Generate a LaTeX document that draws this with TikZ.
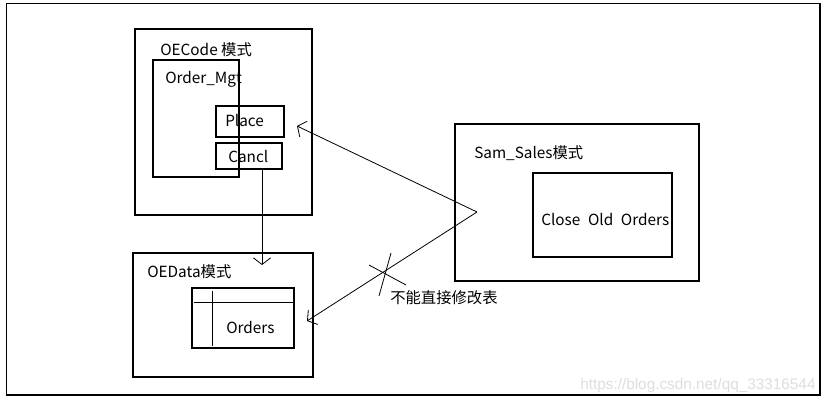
\documentclass[tikz,border=0pt]{standalone}
\usepackage{fontspec}
\setmainfont{Noto Sans CJK SC}
\newfontfamily\wmfont{Liberation Sans}
\usetikzlibrary{fit,arrows.meta}
\tikzset{
  box/.style={draw=black, line width=0.9pt, inner sep=0pt, fill=none},
  lbl/.style={anchor=base west, inner sep=0pt, font=\fontsize{11.5}{13}\selectfont},
  conn/.style={line width=0.6pt, -{Straight Barb[length=5pt,width=13pt,line width=0.6pt]}},
  thin/.style={line width=0.6pt}
}
\begin{document}
\begin{tikzpicture}[x=0.75pt,y=-0.75pt]
\fill[white] (0,0) rectangle (833,403);
\useasboundingbox (0,0) rectangle (833,403);
\node[box, fit={(6.5,3.5) (820,395)}] (frame) {};
% OECode
\node[box, fit={(135,29) (312,215)}] (oecode) {};
\node[lbl] (oecodet) at (160,56) {OECode 模式};
\node[box, fit={(153,60) (239,177)}] (ordermgt) {};
\node[lbl] (ordermgtt) at (165,84) {Order\_Mgt};
\node[box, fit={(216,106) (284,137)}] (place) {};
\node[lbl] (placet) at (225,127) {Place};
\node[box, fit={(216,143) (282,169)}] (cancl) {};
\node[lbl] (canclt) at (228,162) {Cancl};
% OEData
\node[box, fit={(133,253) (313,377)}] (oedata) {};
\node[lbl] (oedatat) at (147,277) {OEData模式};
\node[box, fit={(192,288) (294,348)}] (orders) {};
\node[lbl] (orderst) at (226,333) {Orders};
\draw[thin] (194,302) -- (295,302);
\draw[thin] (212,291) -- (212,346);
% Sam_Sales
\node[box, fit={(455,124) (699,281)}] (samsales) {};
\node[lbl] (samsalest) at (474,159) {Sam\_Sales模式};
\node[box, fit={(533,173) (672,257)}] (closeold) {};
\node[lbl] (closeoldt) at (541,225) {Close\hspace{0.5em}Old\hspace{0.5em}Orders};
% connectors
\coordinate (c1) at (262,169);
\coordinate (t1) at (262,265);
\draw[conn] (c1) -- (t1);
\coordinate (v) at (477,212);
\coordinate (tp) at (297,126);
\coordinate (to) at (307,321);
\draw[conn] (v) -- (tp);
\draw[conn] (v) -- (to);
% cross
\draw[thin] (369,265) -- (406,285);
\draw[thin] (391,253) -- (379,296);
\node[lbl] (cannot) at (390,303) {不能直接修改表};
% watermark
\node[anchor=base west, inner sep=0pt, text=black!13, font=\wmfont\fontsize{11.5}{13}\selectfont] (wm) at (580,389) {https://blog.csdn.net/qq\_33316544};
\end{tikzpicture}
\end{document}
